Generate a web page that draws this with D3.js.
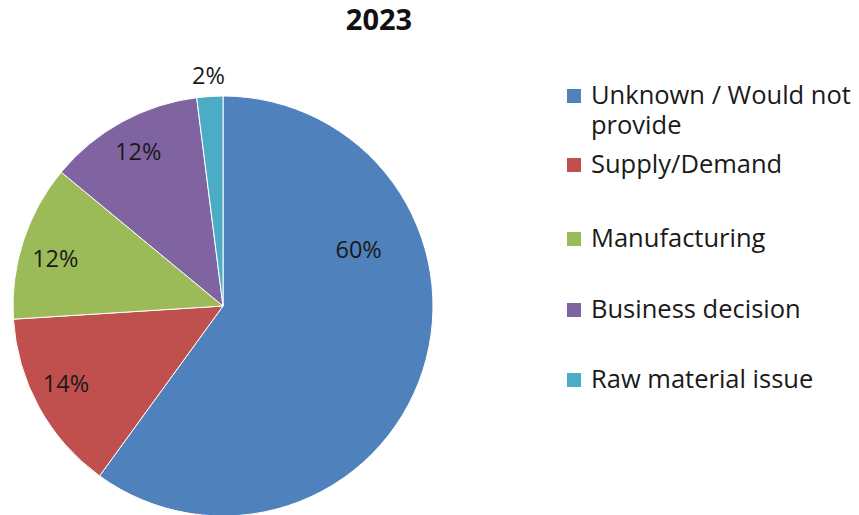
<!DOCTYPE html>
<html>
<head>
<meta charset="utf-8">
<script src="https://cdn.jsdelivr.net/npm/d3@7.9.0/dist/d3.min.js"></script>
<style>
  body { margin: 0; background: #fff; }
  svg { display: block; font-family: 'Open Sans', sans-serif; }
</style>
</head>
<body>
<div id="chart"></div>
<script>
// data
const title = '2023';
const categories = ['Unknown / Would not provide', 'Supply/Demand', 'Manufacturing', 'Business decision', 'Raw material issue'];
const values = [60, 14, 12, 12, 2];
const colors = ['#4F81BD', '#C0504D', '#9BBB59', '#8064A2', '#4BACC6'];

// label placement (fraction of radius, angle shift in degrees) - excel "best fit" look
const labelRadius = [0.70, 0.835, 0.83, 0.838, 1.10];
const labelShift = [-40.7, 2.4, -2.2, 0, 0];

const width = 859;
const height = 515;
const cx = 223, cy = 306, radius = 210;

const svg = d3.select('#chart')
    .append('svg')
    .attr('width', width)
    .attr('height', height);

svg.append('text')
    .attr('x', 379)
    .attr('y', 30)
    .attr('text-anchor', 'middle')
    .style('font-weight', 'bold')
    .style('font-size', '29px')
    .style('fill', '#111')
    .text(title);

const pie = d3.pie().sort(null).value(d => d);
const arcs = pie(values);
const arc = d3.arc().innerRadius(0).outerRadius(radius);

const g = svg.append('g').attr('transform', `translate(${cx},${cy})`);

g.selectAll('path')
    .data(arcs)
    .enter()
    .append('path')
    .attr('d', arc)
    .attr('fill', (d, i) => colors[i])
    .attr('stroke', '#fff')
    .attr('stroke-width', 1);

g.selectAll('text.lbl')
    .data(arcs)
    .enter()
    .append('text')
    .attr('class', 'lbl')
    .attr('text-anchor', 'middle')
    .attr('dy', '0.35em')
    .style('font-size', '23.5px')
    .style('fill', '#1a1a1a')
    .attr('transform', (d, i) => {
        const a = (d.startAngle + d.endAngle) / 2 + labelShift[i] * Math.PI / 180;
        const r = radius * labelRadius[i];
        return `translate(${r * Math.sin(a)},${-r * Math.cos(a)})`;
    })
    .text(d => d.value + '%');

// legend
const legendRows = [
    { lines: ['Unknown / Would not', 'provide'], y: 104 },
    { lines: ['Supply/Demand'], y: 173 },
    { lines: ['Manufacturing'], y: 247 },
    { lines: ['Business decision'], y: 318 },
    { lines: ['Raw material issue'], y: 388 }
];

const legend = svg.append('g').attr('class', 'legend');
legendRows.forEach((row, i) => {
    legend.append('rect')
        .attr('x', 567)
        .attr('y', row.y - 15)
        .attr('width', 14)
        .attr('height', 14)
        .attr('fill', colors[i]);
    const t = legend.append('text')
        .attr('x', 591)
        .attr('y', row.y)
        .style('font-size', '25.5px')
        .style('fill', '#1a1a1a');
    row.lines.forEach((line, j) => {
        t.append('tspan')
            .attr('x', 591)
            .attr('dy', j === 0 ? 0 : 30)
            .text(line);
    });
});
</script>
</body>
</html>
